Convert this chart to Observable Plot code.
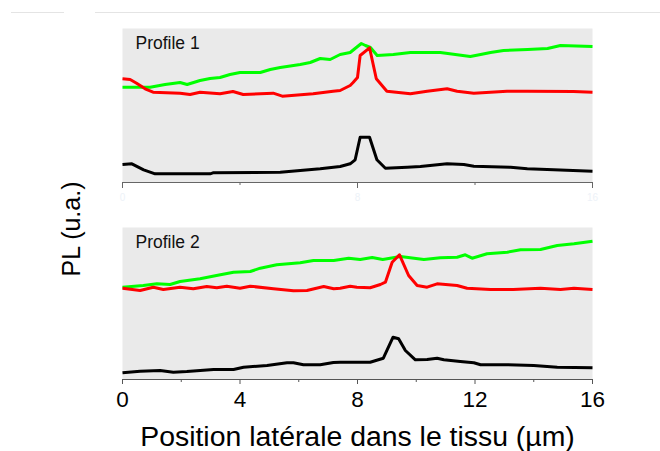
<!DOCTYPE html>
<html>
<head>
<meta charset="utf-8">
<script src="https://cdn.jsdelivr.net/npm/d3@7"></script>
<script src="https://cdn.jsdelivr.net/npm/@observablehq/plot@0.6"></script>
<style>
  html, body { margin: 0; padding: 0; background: #fff; }
  #wrap { position: relative; width: 660px; height: 451px; overflow: hidden; font-family: "Liberation Sans", Arial, sans-serif; }
  .deco { position: absolute; height: 1px; background: #e4e4e4; top: 12px; }
  #p1, #p2 { position: absolute; left: 0; }
  #p1 { top: 0; }
  #p2 { top: 199px; }
</style>
</head>
<body>
<div id="wrap">
  <div class="deco" style="left:11px;width:53px"></div>
  <div class="deco" style="left:95px;width:565px"></div>
  <div id="p1"></div>
  <div id="p2"></div>
</div>
<script>
// ---- data (x: position in µm, y: PL in arbitrary units) ----
const panelLabels = ["Profile 1", "Profile 2"];
const xTicks = [0, 4, 8, 12, 16];
const xMinorTicks = [2, 6, 10, 14];
const xTitle = "Position latérale dans le tissu (µm)";
const yTitle = "PL (u.a.)";

const p1Green = [[0,95.3],[0.94,95.3],[1.45,98],[1.96,100],[2.2,98],[2.64,102],[2.98,104],[3.32,105],[3.66,108],[4.0,110],[4.69,110],[5.03,113],[5.37,115],[6.05,118],[6.39,120],[6.73,124],[7.07,123],[7.41,128],[7.75,130],[7.96,135],[8.13,139],[8.27,137],[8.44,135],[8.67,127],[9.22,128],[9.8,130],[10.82,130],[11.33,128],[11.84,126],[12.19,128],[12.53,130],[12.97,132],[13.79,133],[14.47,134],[14.91,137],[16,136]];
const p1Red = [[0,103.7],[0.26,103],[0.48,99.3],[0.77,93.7],[1.04,90.3],[1.96,89.3],[2.3,88],[2.64,90.3],[3.32,88.7],[3.76,91],[4.11,88],[5.13,89.3],[5.44,86.3],[6.49,88.7],[7.17,91.3],[7.41,92],[7.75,97],[7.85,100],[8.0,105],[8.09,127],[8.41,134.7],[8.64,103.7],[9.0,91.3],[9.8,88.7],[10.37,91.3],[11.05,93.7],[11.39,91.3],[11.96,89.3],[13.09,91.3],[13.78,91.3],[15.35,91],[16,90.3]];
const p1Black = [[0,18],[0.32,18.7],[0.72,12.7],[1.11,8.7],[2.98,8.7],[3.08,9.7],[5.37,10.3],[6.05,12],[6.73,13.7],[7.41,16],[7.75,18.7],[7.92,22.7],[8.09,45.3],[8.41,45.3],[8.66,22.7],[8.95,14.3],[9.69,15.3],[10.14,16],[11.05,18.7],[11.62,18],[11.96,16.3],[13.21,15.3],[13.78,13.7],[14.68,12.7],[16,11.3]];

const p2Green = [[0,92.3],[0.71,94],[1.17,95.7],[1.62,95],[1.96,98],[2.64,100.7],[3.2,104],[3.78,107.3],[4.35,108],[4.69,111.3],[5.25,114.7],[6.05,116.7],[6.5,119],[7.19,119],[7.7,121.3],[8.09,120],[8.5,122],[8.86,120],[9.46,123],[10.26,120],[10.82,121.7],[11.39,122.3],[11.67,124.7],[11.9,121.3],[12.41,125.7],[13.1,127.3],[13.55,129.7],[14.23,130],[14.8,134],[15.37,135.7],[16,138.3]];
const p2Red = [[0,91.3],[0.6,89],[1.05,92.3],[1.39,90],[1.96,92.3],[2.41,90.7],[2.87,93],[3.21,91.7],[3.55,93.3],[4.0,91.3],[4.35,93.3],[5.14,90.7],[5.82,88.7],[6.28,89],[6.85,93],[7.19,90.7],[7.41,91.3],[7.75,93.3],[7.98,92.3],[8.43,91.7],[8.78,95],[8.95,97.3],[9.18,117.3],[9.43,124.7],[9.74,104],[10.03,94],[10.37,92.3],[10.71,95.7],[11.39,94],[11.73,91.3],[12.53,90],[13.3,90],[14.23,91.3],[14.91,90],[15.37,91.3],[16,90]];
const p2Black = [[0,6.7],[0.6,8.3],[1.28,9],[1.73,7.3],[2.19,8],[3.1,10],[3.78,10],[4.12,12.3],[4.92,14],[5.6,16.7],[5.82,16.7],[6.16,14.7],[6.73,14.7],[7.18,17],[7.41,17.3],[8.43,17.3],[8.88,21.3],[9.21,42.3],[9.4,40.7],[9.63,29],[9.97,19.7],[10.37,20],[10.71,21.3],[10.94,19.7],[11.5,18],[11.96,16.7],[12.19,14.7],[13.1,14.7],[14.0,14],[14.8,12.3],[16,11.7]];

const seriesColors = ["#00ff00", "#ff0000", "#000000"];
const font = "Liberation Sans, Arial, sans-serif";

function lines(sets) {
  return sets.map((d, i) => Plot.line(d, {x: p => p[0], y: p => p[1], stroke: seriesColors[i], strokeWidth: 3, strokeLinejoin: "round", strokeLinecap: "butt"}));
}

const p1 = Plot.plot({
  width: 660, height: 199,
  marginLeft: 122, marginRight: 68, marginTop: 28, marginBottom: 17,
  style: {fontFamily: font, background: "transparent", overflow: "visible"},
  x: {domain: [0, 16], label: null},
  y: {domain: [0, 154], axis: null, label: null},
  marks: [
    Plot.frame({fill: "#eaeaea", stroke: null}),
    ...lines([p1Green, p1Red, p1Black]),
    Plot.ruleY([0], {stroke: "#666", strokeWidth: 1}),
    Plot.axisX({ticks: [0, 8, 16], tickSize: 6, tickFormat: () => "", stroke: "#666", label: null}),
    Plot.axisX({ticks: [4, 12], tickSize: 3, tickFormat: () => "", stroke: "#666", label: null}),
    Plot.axisX({ticks: [0, 8, 16], tickSize: 0, tickPadding: 11, fill: "#edf2f8", fontSize: 10, label: null}),
    Plot.text([panelLabels[0]], {frameAnchor: "top-left", dx: 13, dy: 8, lineAnchor: "top", textAnchor: "start", fontSize: 17.5, fill: "#111"})
  ]
});
document.getElementById("p1").appendChild(p1);

const p2 = Plot.plot({
  width: 660, height: 252,
  marginLeft: 122, marginRight: 68, marginTop: 28, marginBottom: 72,
  style: {fontFamily: font, background: "transparent", overflow: "visible"},
  x: {domain: [0, 16], label: null},
  y: {domain: [0, 152], axis: null, label: null},
  marks: [
    Plot.frame({fill: "#eaeaea", stroke: null}),
    ...lines([p2Green, p2Red, p2Black]),
    Plot.ruleY([0], {stroke: "#555", strokeWidth: 1}),
    Plot.axisX({ticks: xMinorTicks, tickSize: 3, tickFormat: () => "", stroke: "#555", label: null}),
    Plot.axisX({ticks: xTicks, tickSize: 5, tickPadding: 7, stroke: "#555", fill: "#000", fontSize: 22.5, label: null}),
    Plot.text([xTitle], {frameAnchor: "bottom", dy: 57, lineAnchor: "middle", fontSize: 28.4, fill: "#000"}),
    Plot.text([yTitle], {frameAnchor: "top-left", dx: -51, dy: 1.5, rotate: -90, lineAnchor: "middle", textAnchor: "middle", fontSize: 25, fill: "#000"}),
    Plot.text([panelLabels[1]], {frameAnchor: "top-left", dx: 13, dy: 8, lineAnchor: "top", textAnchor: "start", fontSize: 17.5, fill: "#111"})
  ]
});
document.getElementById("p2").appendChild(p2);
</script>
</body>
</html>
